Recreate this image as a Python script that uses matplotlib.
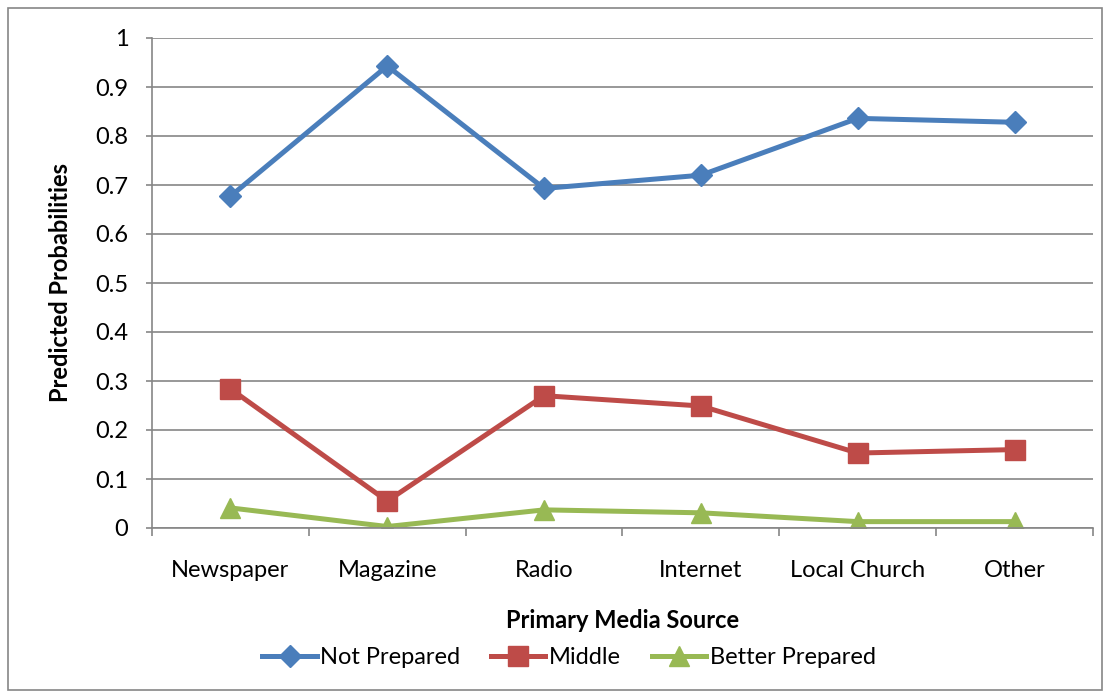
import matplotlib.pyplot as plt
import numpy as np
from matplotlib.patches import Rectangle

categories = ["Newspaper", "Magazine", "Radio", "Internet", "Local Church", "Other"]
not_prepared = [0.677, 0.943, 0.693, 0.720, 0.836, 0.828]
middle = [0.284, 0.055, 0.270, 0.249, 0.153, 0.160]
better_prepared = [0.041, 0.003, 0.037, 0.031, 0.013, 0.013]
y_ticks = [0, 0.1, 0.2, 0.3, 0.4, 0.5, 0.6, 0.7, 0.8, 0.9, 1]
y_tick_labels = ["0", "0.1", "0.2", "0.3", "0.4", "0.5", "0.6", "0.7", "0.8", "0.9", "1"]

plt.rcParams['font.family'] = ['Lato', 'DejaVu Sans']
FS = 17

fig = plt.figure(figsize=(11.1, 6.94), dpi=100)
ax = fig.add_axes([152 / 1110, 1 - 528 / 694, (1093 - 152) / 1110, (528 - 38) / 694])

# outer chart border
fig.patches.append(Rectangle((8 / 1110, 4 / 694), 1094 / 1110, 682 / 694, transform=fig.transFigure,
                             fill=False, edgecolor="#868686", linewidth=1.2))

x = np.arange(len(categories))
ax.plot(x, not_prepared, color="#4A7EBB", lw=3.6, marker="D", ms=11, label="Not Prepared")
ax.plot(x, middle, color="#BE4B48", lw=3.6, marker="s", ms=14, label="Middle")
ax.plot(x, better_prepared, color="#98B954", lw=3.6, marker="^", ms=14, label="Better Prepared")

ax.set_xlim(-0.5, len(categories) - 0.5)
ax.set_ylim(0, 1)
ax.set_yticks(y_ticks)
ax.set_yticklabels(y_tick_labels)
ax.yaxis.grid(True, color="#868686", lw=1.2)
ax.set_axisbelow(True)

ax.set_xticks(x)
ax.set_xticklabels(categories)
ax.set_xticks(np.arange(-0.5, len(categories)), minor=True)
ax.tick_params(axis="x", which="major", length=0, pad=23, labelsize=FS)
ax.tick_params(axis="x", which="minor", length=6, color="#868686", width=1.2)
ax.tick_params(axis="y", length=4, color="#868686", width=1.2, pad=13, labelsize=FS)

for side in ["top", "right"]:
    ax.spines[side].set_visible(False)
for side in ["left", "bottom"]:
    ax.spines[side].set_color("#868686")
    ax.spines[side].set_linewidth(1.2)

ax.set_xlabel("Primary Media Source", fontsize=FS, fontweight="bold", labelpad=20)
ax.set_ylabel("Predicted Probabilities", fontsize=FS, fontweight="bold", labelpad=17)

ax.legend(loc="center", bbox_to_anchor=(569 / 1110, 1 - 658 / 694), bbox_transform=fig.transFigure,
          ncol=3, frameon=False, fontsize=FS, handlelength=2.3, handletextpad=0.15, columnspacing=1.3,
          borderaxespad=0)

fig.savefig("out.png")
